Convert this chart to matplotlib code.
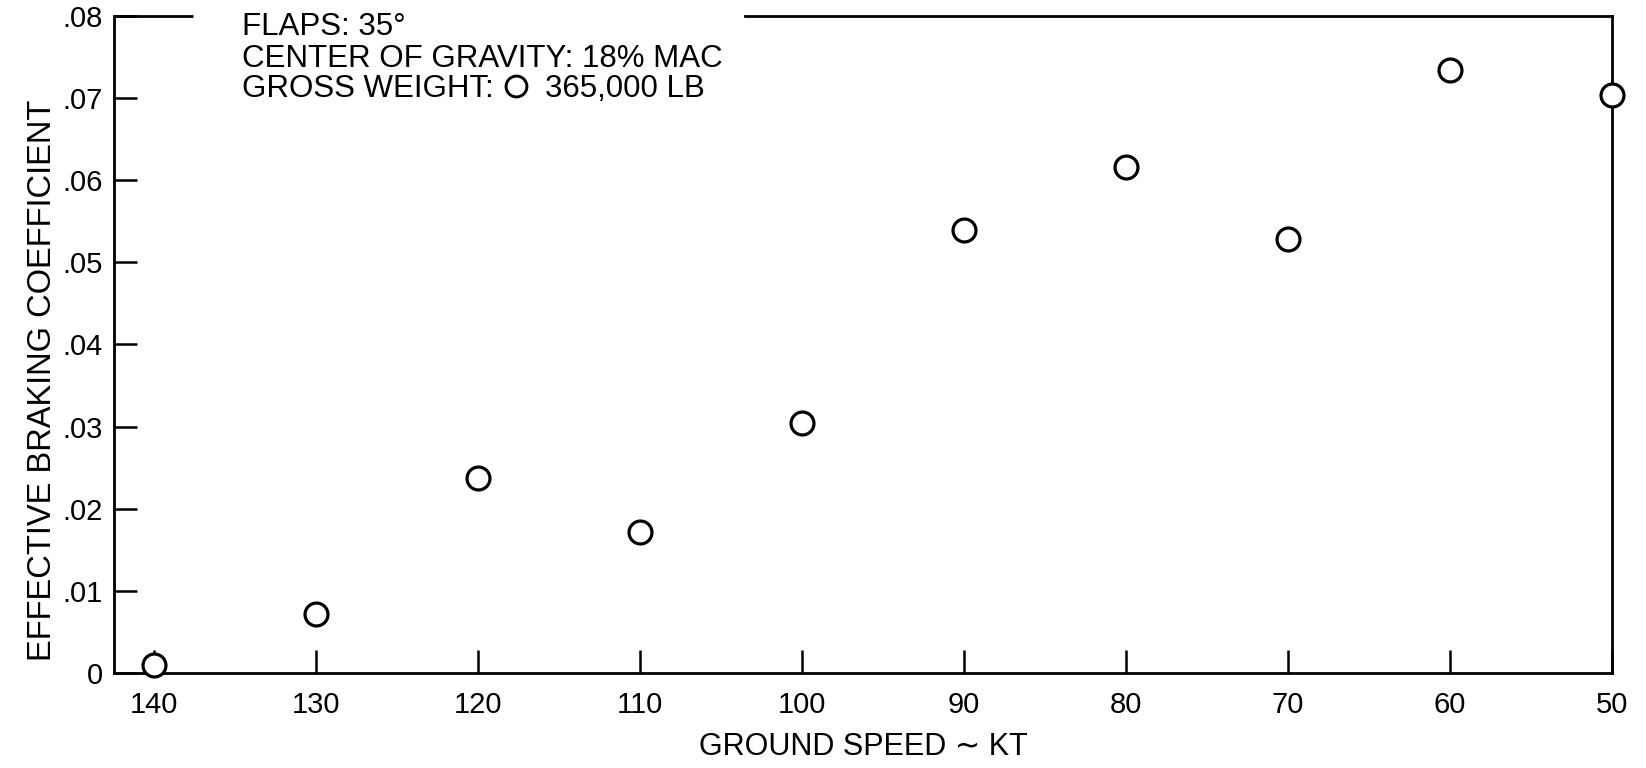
import numpy as np
import matplotlib
matplotlib.use('Agg')
import matplotlib.pyplot as plt
import matplotlib.ticker as mticker

plt.rcParams['font.family'] = ['Liberation Sans', 'DejaVu Sans']

# ground speed (kt) and effective braking coefficient
speed = [140, 130, 120, 110, 100, 90, 80, 70, 60, 50]
mu = [0.0010, 0.0072, 0.0238, 0.0172, 0.0304, 0.0539, 0.0616, 0.0528, 0.0734, 0.0704]

x_ticks = [140, 130, 120, 110, 100, 90, 80, 70, 60, 50]
y_ticks = [0, 0.01, 0.02, 0.03, 0.04, 0.05, 0.06, 0.07, 0.08]
y_labels = ['0', '.01', '.02', '.03', '.04', '.05', '.06', '.07', '.08']

notes = ["FLAPS: 35\u00b0",
         "CENTER OF GRAVITY: 18% MAC",
         "GROSS WEIGHT:"]
weight_label = "365,000 LB"
note_y = [0.9711, 0.9224, 0.8767]
NOTE_FS = 22.5

fig = plt.figure(figsize=(16.46, 7.68), dpi=100)
ax = fig.add_axes([0.0693, 0.1237, 0.9100, 0.8555])

ax.plot(speed, mu, linestyle='none', marker='o', markersize=16.5,
        markerfacecolor='white', markeredgecolor='black', markeredgewidth=2.3,
        clip_on=False, zorder=5)

ax.set_xlim(142.47, 50)
ax.set_ylim(0, 0.08)
ax.set_xticks(x_ticks)
ax.set_yticks(y_ticks)
ax.yaxis.set_major_formatter(mticker.FixedFormatter(y_labels))
ax.tick_params(direction='in', length=16.5, width=1.8, labelsize=21)
ax.tick_params(axis='x', pad=13)
ax.tick_params(axis='y', pad=8)

for s in ax.spines.values():
    s.set_linewidth(2.0)

# top border is broken where the notes sit
ax.spines['top'].set_bounds(103.5, 50)
ax.plot([142.47, 137.6], [1, 1], color='black', linewidth=2.0,
        transform=ax.get_xaxis_transform(), clip_on=False, solid_capstyle='butt')

texts = []
for txt, yy in zip(notes, note_y):
    texts.append(ax.text(0.0854, yy, txt, transform=ax.transAxes,
                         fontsize=NOTE_FS, va='baseline', ha='left'))

# legend circle and weight after "GROSS WEIGHT:"
fig.canvas.draw()
bb = texts[2].get_window_extent()
base_px = ax.transAxes.transform((0, note_y[2]))[1]
cap_px = 0.716 * NOTE_FS * fig.dpi / 72
cx = bb.x1 + 22
cy = base_px + cap_px / 2
inv = ax.transAxes.inverted()
mx, my = inv.transform((cx, cy))
ax.plot([mx], [my], transform=ax.transAxes, linestyle='none', marker='o',
        markersize=15, markerfacecolor='white', markeredgecolor='black',
        markeredgewidth=2.1, clip_on=False)
tx, _ = inv.transform((cx + 29, cy))
ax.text(tx, note_y[2], weight_label, transform=ax.transAxes,
        fontsize=NOTE_FS, va='baseline', ha='left')

ax.set_xlabel("GROUND SPEED \u223c KT", fontsize=22, va='center')
ax.xaxis.set_label_coords(0.5, -0.112)
ax.set_ylabel("EFFECTIVE BRAKING COEFFICIENT", fontsize=23.5, va='center')
ax.yaxis.set_label_coords(-0.048, 0.446)

plt.savefig("out.png", dpi=100)
